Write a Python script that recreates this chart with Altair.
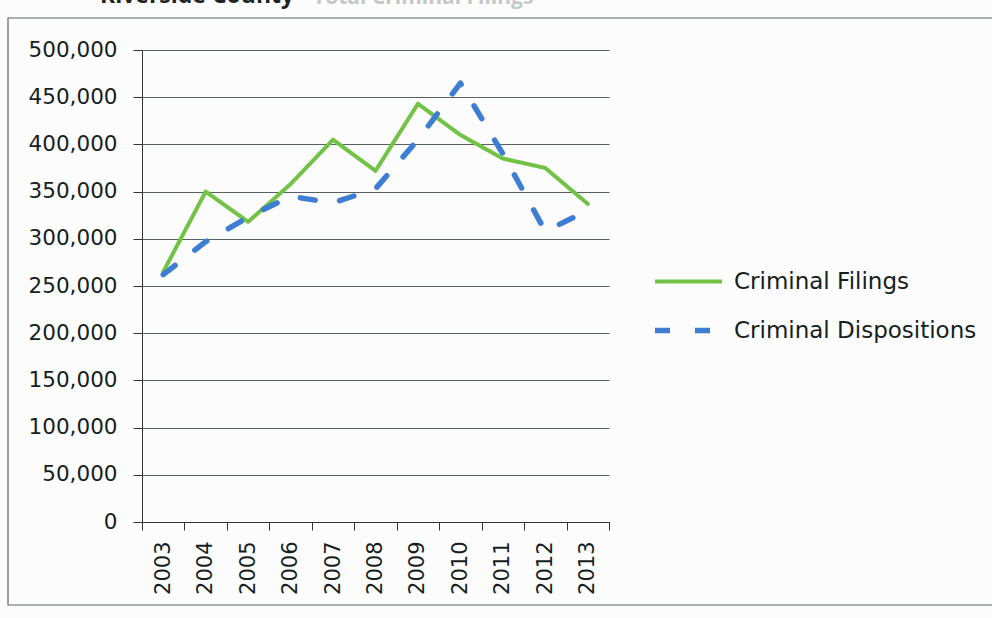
import altair as alt
import pandas as pd

# Riverside County criminal caseload, 2003-2013
years = ["2003", "2004", "2005", "2006", "2007", "2008",
         "2009", "2010", "2011", "2012", "2013"]
filings = [265000, 350000, 318000, 358000, 405000, 372000,
           443000, 410000, 385000, 375000, 337000]
dispositions = [262000, 297000, 323000, 345000, 338000, 353000,
                405000, 465000, 390000, 308000, 330000]

series_names = ["Criminal Filings", "Criminal Dispositions"]
series_colors = ["#72c245", "#3d7dd2"]
y_ticks = [0, 50000, 100000, 150000, 200000, 250000,
           300000, 350000, 400000, 450000, 500000]

rows = []
for name, values in zip(series_names, [filings, dispositions]):
    for yr, v in zip(years, values):
        rows.append({"year": yr, "series": name, "cases": v})
df = pd.DataFrame(rows)

FONT = "DejaVu Sans"
TEXT = "#161e1e"
W, H = 467, 472

lines = alt.Chart(df).mark_line(strokeCap="round", strokeJoin="round").encode(
    x=alt.X(
        "year:O",
        sort=years,
        bandPosition=0.5,
        scale=alt.Scale(type="band", paddingInner=0, paddingOuter=0),
        axis=alt.Axis(
            title=None,
            labelAngle=270,
            labelFontSize=21,
            labelFont=FONT,
            labelColor=TEXT,
            labelPadding=11,
            tickBand="extent",
            tickSize=8,
            tickColor="#333",
            domainColor="#333",
            grid=False,
        ),
    ),
    y=alt.Y(
        "cases:Q",
        scale=alt.Scale(domain=[0, 500000], nice=False),
        axis=alt.Axis(
            title=None,
            values=y_ticks,
            format=",.0f",
            labelFontSize=21.5,
            labelFont=FONT,
            labelColor=TEXT,
            labelPadding=16,
            tickSize=9,
            tickColor="#333",
            domainColor="#333",
            grid=True,
            gridColor="#3c4444",
            gridWidth=1,
            gridOpacity=0.85,
        ),
    ),
    color=alt.Color(
        "series:N",
        sort=series_names,
        scale=alt.Scale(domain=series_names, range=series_colors),
        legend=alt.Legend(
            title=None,
            orient="none",
            legendX=510,
            legendY=196,
            symbolType="stroke",
            symbolSize=4489,
            symbolStrokeWidth=5,
            labelFontSize=23,
            labelFont=FONT,
            labelColor=TEXT,
            labelOffset=9,
            labelLimit=400,
            rowPadding=-19,
            padding=0,
        ),
    ),
    strokeDash=alt.StrokeDash(
        "series:N",
        sort=series_names,
        scale=alt.Scale(domain=series_names, range=[[1, 0], [15, 25]]),
        legend=alt.Legend(
            title=None,
            orient="none",
            legendX=510,
            legendY=196,
        ),
    ),
    strokeWidth=alt.StrokeWidth(
        "series:N",
        sort=series_names,
        scale=alt.Scale(domain=series_names, range=[4, 5.5]),
        legend=None,
    ),
)

one = pd.DataFrame({"k": [0]})

# outer chart frame
frame = alt.Chart(one).mark_rect(
    fillOpacity=0, stroke="#5a6262", strokeWidth=1.2
).encode(
    x=alt.value(-134), x2=alt.value(858), y=alt.value(-32), y2=alt.value(555)
)

# chart heading along the top edge
title_main = alt.Chart(one).mark_text(
    text="Riverside County", align="left", baseline="alphabetic",
    font="Open Sans", fontWeight="bold", fontSize=23, color="#1e2424"
).encode(x=alt.value(-42), y=alt.value(-47))

title_rest = alt.Chart(one).mark_text(
    text="Total Criminal Filings", align="left", baseline="alphabetic",
    font="Open Sans", fontWeight="bold", fontSize=21, color="#c4c8c8"
).encode(x=alt.value(171), y=alt.value(-46))

chart = alt.layer(frame, title_main, title_rest, lines).properties(
    width=W,
    height=H,
    autosize=alt.AutoSizeParams(type="none"),
    padding={"left": 142, "top": 50, "right": 383, "bottom": 96},
    background="#fcfcfc",
).configure_view(stroke=None)

chart.save("out.html", embed_options={"renderer": "svg", "actions": False})
